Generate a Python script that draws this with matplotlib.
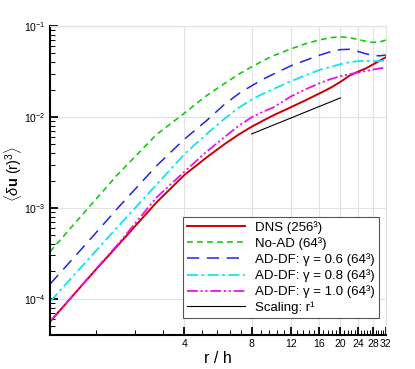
import matplotlib
matplotlib.use("Agg")
import matplotlib.pyplot as plt
import matplotlib.ticker as mticker
import numpy as np

plt.rcParams['font.family'] = ['Liberation Sans', 'DejaVu Sans']
plt.rcParams['mathtext.fontset'] = 'custom'
plt.rcParams['mathtext.rm'] = 'Liberation Sans'
plt.rcParams['mathtext.it'] = 'Liberation Sans:italic'
plt.rcParams['mathtext.bf'] = 'Liberation Sans:bold'

# separation r/h
r = [1, 1.5, 2, 3, 4, 5, 6, 7, 8, 9, 10, 12, 14, 16, 18, 20, 22, 24, 26, 28, 30, 32]

dns = [5.6e-5, 1.74e-4, 3.8e-4, 1.15e-3, 2.3e-3, 3.55e-3, 4.95e-3, 6.4e-3, 7.8e-3, 9.1e-3,
       1.04e-2, 1.28e-2, 1.53e-2, 1.8e-2, 2.08e-2, 2.43e-2, 2.85e-2, 3.15e-2, 3.42e-2,
       3.78e-2, 4.15e-2, 4.55e-2]
no_ad = [3.3e-4, 1.03e-3, 2.3e-3, 6.4e-3, 1.1e-2, 1.7e-2, 2.3e-2, 2.95e-2, 3.55e-2, 4.15e-2,
         4.7e-2, 5.6e-2, 6.4e-2, 7.0e-2, 7.45e-2, 7.6e-2, 7.45e-2, 7.1e-2, 6.8e-2, 6.6e-2,
         6.7e-2, 7.0e-2]
g06 = [1.45e-4, 4.4e-4, 9.8e-4, 2.9e-3, 5.7e-3, 9.0e-3, 1.35e-2, 1.8e-2, 2.2e-2, 2.6e-2,
       2.95e-2, 3.65e-2, 4.2e-2, 4.75e-2, 5.2e-2, 5.5e-2, 5.55e-2, 5.25e-2, 4.95e-2, 4.75e-2,
       4.7e-2, 4.8e-2]
g08 = [9.3e-5, 2.8e-4, 6.1e-4, 1.8e-3, 3.9e-3, 6.4e-3, 9.4e-3, 1.26e-2, 1.55e-2, 1.8e-2,
       2.03e-2, 2.47e-2, 2.88e-2, 3.27e-2, 3.55e-2, 3.8e-2, 4.0e-2, 4.1e-2, 4.15e-2, 4.12e-2,
       4.12e-2, 4.2e-2]
g10 = [5.6e-5, 1.76e-4, 3.9e-4, 1.3e-3, 2.5e-3, 4.1e-3, 5.9e-3, 8.0e-3, 9.9e-3, 1.14e-2,
       1.27e-2, 1.68e-2, 2.02e-2, 2.33e-2, 2.6e-2, 2.8e-2, 2.95e-2, 3.08e-2, 3.2e-2, 3.32e-2,
       3.42e-2, 3.5e-2]

# r^1 reference line
r_scal = [8, 20]
scal = [6.5e-3, 1.62e-2]

fig = plt.figure(figsize=(4.15, 3.69), dpi=100)
ax = fig.add_axes([0.1205, 0.0921, 0.8095, 0.8374])

ax.plot(r, dns, color='#cc0000', lw=1.4, label='DNS (256³)')
ax.plot(r, no_ad, color='#11cc11', lw=1.2, ls=(0, (3.5, 2.5)), label='No-AD (64³)')
ax.plot(r, g06, color='#2222ee', lw=1.1, ls=(0, (8, 5)), label='AD-DF: γ = 0.6 (64³)')
ax.plot(r, g08, color='#11e5ee', lw=1.3, ls=(0, (6, 2, 1.5, 2)), label='AD-DF: γ = 0.8 (64³)')
ax.plot(r, g10, color='#ee11ee', lw=1.3, ls=(0, (6, 1.5, 1.2, 1.5, 1.2, 1.5)),
        label='AD-DF: γ = 1.0 (64³)')
ax.plot(r_scal, scal, color='k', lw=0.8, label='Scaling: r¹')

ax.set_xscale('log')
ax.set_yscale('log')
ax.set_xlim(1, 32)
ax.set_ylim(4e-5, 1e-1)

ax.xaxis.set_major_locator(mticker.FixedLocator([4, 8, 12, 16, 20, 24, 28, 32]))
ax.xaxis.set_major_formatter(mticker.FixedFormatter(['4', '8', '12', '16', '20', '24', '28', '32']))
minor_x = [v for v in np.arange(0.8, 32, 0.8) if v > 1 and abs(v / 4 - round(v / 4)) > 1e-6]
ax.xaxis.set_minor_locator(mticker.FixedLocator(minor_x))
ax.xaxis.set_minor_formatter(mticker.NullFormatter())
ax.yaxis.set_major_locator(mticker.LogLocator(base=10))
ax.yaxis.set_minor_locator(mticker.LogLocator(base=10, subs=np.arange(2, 10)))
ax.yaxis.set_minor_formatter(mticker.NullFormatter())

ax.tick_params(which='major', direction='in', length=6, width=1.3, labelsize=7.5, pad=3)
ax.tick_params(which='minor', direction='in', length=3.5, width=0.7)
ax.tick_params(top=False, right=False)

ax.grid(True, which='major', color='#e2e2e2', lw=0.8)
ax.set_axisbelow(True)
for s in ['top', 'right']:
    ax.spines[s].set_color('#e2e2e2')
    ax.spines[s].set_linewidth(0.8)
for s in ['left', 'bottom']:
    ax.spines[s].set_linewidth(1.5)

ax.set_xlabel('r / h', fontsize=11.5, labelpad=1)
ax.set_ylabel(r'$\langle\delta\mathbf{u}\ (\mathrm{r})^3\rangle$', fontsize=10.5)
ax.yaxis.set_label_coords(-0.078, 0.52)

leg = ax.legend(loc='lower right', bbox_to_anchor=(0.979, 0.055), borderaxespad=0,
                fontsize=9.5, handlelength=4.4, handletextpad=0.8, labelspacing=0.25,
                borderpad=0.3, fancybox=False, framealpha=1, edgecolor='#555555')
leg.get_frame().set_linewidth(0.8)

fig.savefig('out.png', dpi=100)
